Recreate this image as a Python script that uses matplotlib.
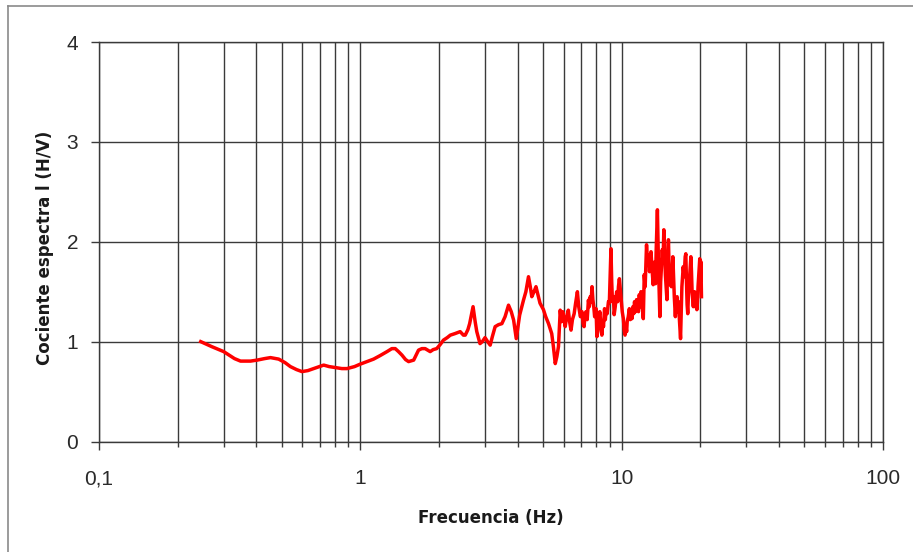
import matplotlib
matplotlib.use("Agg")
import matplotlib.pyplot as plt
from matplotlib.ticker import FixedLocator, NullFormatter, FixedFormatter
from matplotlib.lines import Line2D

plt.rcParams['font.family'] = ['Liberation Sans', 'DejaVu Sans']

freq = [0.245, 0.27, 0.30, 0.33, 0.348, 0.38, 0.403, 0.43, 0.453, 0.487,
        0.515, 0.54, 0.57, 0.598, 0.63, 0.663, 0.724, 0.76, 0.803, 0.85,
        0.889, 0.95, 1.0, 1.06, 1.124, 1.19, 1.265, 1.32, 1.36, 1.40,
        1.443, 1.49, 1.53, 1.60, 1.67, 1.72, 1.77, 1.85, 1.90, 1.96,
        2.02, 2.08, 2.15, 2.21, 2.30, 2.41, 2.48, 2.52, 2.58, 2.62,
        2.70, 2.75, 2.79, 2.87, 2.93, 3.0, 3.07, 3.14, 3.20, 3.28,
        3.38, 3.48, 3.58, 3.69, 3.78, 3.86, 3.95, 4.07, 4.21, 4.30,
        4.40, 4.47, 4.53, 4.62, 4.70, 4.78, 4.87, 5.02, 5.12, 5.25,
        5.40, 5.48, 5.57, 5.65, 5.73,
        5.82, 5.88, 5.95, 6.02, 6.08, 6.16, 6.25, 6.32, 6.40, 6.48,
        6.58, 6.66, 6.77, 6.85, 6.95, 7.05, 7.12, 7.18, 7.25, 7.30,
        7.38, 7.46, 7.52, 7.58, 7.64, 7.70, 7.76, 7.82, 7.88, 7.92,
        7.98, 8.04, 8.10, 8.17, 8.25, 8.32, 8.40, 8.47, 8.52, 8.60,
        8.66, 8.72, 8.80, 8.90, 8.97, 9.05, 9.10, 9.16, 9.22, 9.30,
        9.36, 9.45, 9.50, 9.57, 9.65, 9.72, 9.80, 9.88, 9.96, 10.05,
        10.15, 10.22, 10.30, 10.38, 10.45, 10.50, 10.60, 10.70, 10.78, 10.88,
        10.95, 11.05, 11.12, 11.20, 11.30, 11.40, 11.50, 11.60, 11.68, 11.76,
        11.86, 11.95, 12.05, 12.10, 12.20, 12.30, 12.45, 12.55, 12.70, 12.78,
        12.95, 13.05, 13.20, 13.30, 13.40, 13.48, 13.55, 13.70, 13.78, 13.85,
        14.00, 14.10, 14.20, 14.30, 14.40, 14.50, 14.60, 14.70, 14.80, 14.90,
        15.00, 15.10, 15.20, 15.30, 15.40, 15.50, 15.60, 15.70, 15.80, 15.90,
        16.05, 16.15, 16.30, 16.40, 16.50, 16.65, 16.80, 16.90, 17.00, 17.20,
        17.35, 17.50, 17.60, 17.70, 17.80, 17.90, 18.00, 18.10, 18.25, 18.40,
        18.50, 18.60, 18.80, 18.90, 19.00, 19.10, 19.25, 19.40, 19.50, 19.60,
        19.75, 19.90, 20.00, 20.10, 20.20]
hv = [1.00, 0.95, 0.90, 0.83, 0.805, 0.805, 0.815, 0.83, 0.84, 0.825,
      0.79, 0.75, 0.72, 0.70, 0.71, 0.73, 0.765, 0.75, 0.74, 0.73,
      0.73, 0.75, 0.775, 0.80, 0.825, 0.86, 0.90, 0.93, 0.93, 0.90,
      0.865, 0.82, 0.80, 0.815, 0.915, 0.93, 0.93, 0.90, 0.92, 0.93,
      0.97, 1.015, 1.04, 1.065, 1.08, 1.10, 1.065, 1.065, 1.12, 1.18,
      1.35, 1.20, 1.10, 0.98, 1.00, 1.04, 1.00, 0.965, 1.05, 1.15,
      1.17, 1.18, 1.25, 1.365, 1.30, 1.215, 1.03, 1.265, 1.415, 1.50,
      1.65, 1.55, 1.45, 1.50, 1.55, 1.47, 1.385, 1.32, 1.25, 1.18,
      1.08, 0.95, 0.78, 0.85, 0.95,
      1.315, 1.20, 1.30, 1.22, 1.15, 1.25, 1.315, 1.20, 1.115, 1.22,
      1.28, 1.38, 1.50, 1.35, 1.25, 1.30, 1.18, 1.15, 1.28, 1.30,
      1.22, 1.415, 1.35, 1.45, 1.40, 1.55, 1.42, 1.35, 1.25, 1.25,
      1.33, 1.05, 1.10, 1.22, 1.30, 1.18, 1.065, 1.20, 1.15, 1.33,
      1.22, 1.315, 1.28, 1.40, 1.385, 1.70, 1.93, 1.60, 1.40, 1.45,
      1.27, 1.35, 1.42, 1.50, 1.40, 1.55, 1.63, 1.52, 1.40, 1.30,
      1.23, 1.12, 1.065, 1.15, 1.10, 1.20, 1.25, 1.33, 1.22, 1.30,
      1.23, 1.35, 1.28, 1.40, 1.30, 1.42, 1.32, 1.30, 1.47, 1.35,
      1.50, 1.38, 1.30, 1.23, 1.67, 1.55, 1.97, 1.80, 1.87, 1.70,
      1.90, 1.75, 1.57, 1.70, 1.80, 1.58, 1.90, 2.32, 2.00, 1.70,
      1.25, 1.60, 1.75, 1.92, 1.80, 2.12, 1.90, 1.67, 1.55, 1.42,
      1.80, 2.02, 1.70, 1.57, 1.65, 1.55, 1.70, 1.85, 1.65, 1.45,
      1.25, 1.40, 1.45, 1.30, 1.40, 1.20, 1.03, 1.30, 1.55, 1.75,
      1.65, 1.85, 1.88, 1.60, 1.37, 1.28, 1.45, 1.55, 1.70, 1.85,
      1.70, 1.50, 1.35, 1.45, 1.50, 1.35, 1.45, 1.32, 1.40, 1.55,
      1.70, 1.83, 1.60, 1.80, 1.45]

x_major = [0.1, 1, 10, 100]
x_major_labels = ["0,1", "1", "10", "100"]
y_ticks = [0, 1, 2, 3, 4]
x_label = "Frecuencia (Hz)"
y_label = "Cociente espectra l (H/V)"

W, H = 913, 552
fig = plt.figure(figsize=(W / 100, H / 100), dpi=100)
ax = fig.add_axes([99 / W, 1 - 441.5 / H, (883 - 99) / W, (441.5 - 42) / H])

ax.plot(freq, hv, color='#ff0000', lw=2.5, zorder=3, solid_joinstyle='round')

ax.set_xscale('log')
ax.set_xlim(0.1, 100)
ax.set_ylim(0, 4)

minors = [m * d for d in (0.1, 1, 10) for m in range(2, 10)]
ax.xaxis.set_major_locator(FixedLocator(x_major))
ax.xaxis.set_major_formatter(FixedFormatter(x_major_labels))
ax.xaxis.set_minor_locator(FixedLocator(minors))
ax.xaxis.set_minor_formatter(NullFormatter())
ax.yaxis.set_major_locator(FixedLocator(y_ticks))
ax.set_yticklabels([str(v) for v in y_ticks])

gc = '#3a3a3a'
ax.grid(True, which='both', axis='x', color=gc, lw=1.0)
ax.grid(True, which='major', axis='y', color=gc, lw=1.0)

for s in ('left', 'bottom', 'top', 'right'):
    ax.spines[s].set_color(gc)
    ax.spines[s].set_linewidth(1.0)

ax.tick_params(axis='x', which='major', length=6, width=1, color=gc,
               direction='out', labelsize=15, pad=14, labelcolor='#2a2a2a')
ax.tick_params(axis='x', which='minor', length=3.6, width=1, color=gc,
               direction='out')
ax.tick_params(axis='y', which='major', length=6, width=1, color=gc,
               direction='out', labelsize=15, pad=9, labelcolor='#2a2a2a')
for lbl in ax.get_xticklabels() + ax.get_yticklabels():
    lbl.set_family('Liberation Sans')

fig.text(491 / W, 1 - 518 / H, x_label, ha='center', va='center',
         fontsize=12, fontweight='bold', family='DejaVu Sans', color='#1a1a1a')
fig.text(45 / W, 1 - 248 / H, y_label, ha='center', va='center', rotation=90,
         fontsize=12, fontweight='bold', family='DejaVu Sans', color='#1a1a1a')

fig.add_artist(Line2D([8 / W, 8 / W], [0, 1 - 6 / H], transform=fig.transFigure,
                      color='#8a8a8a', lw=1.2))
fig.add_artist(Line2D([8 / W, 1], [1 - 6 / H, 1 - 6 / H], transform=fig.transFigure,
                      color='#8a8a8a', lw=1.2))

fig.savefig('out.png', dpi=100)
